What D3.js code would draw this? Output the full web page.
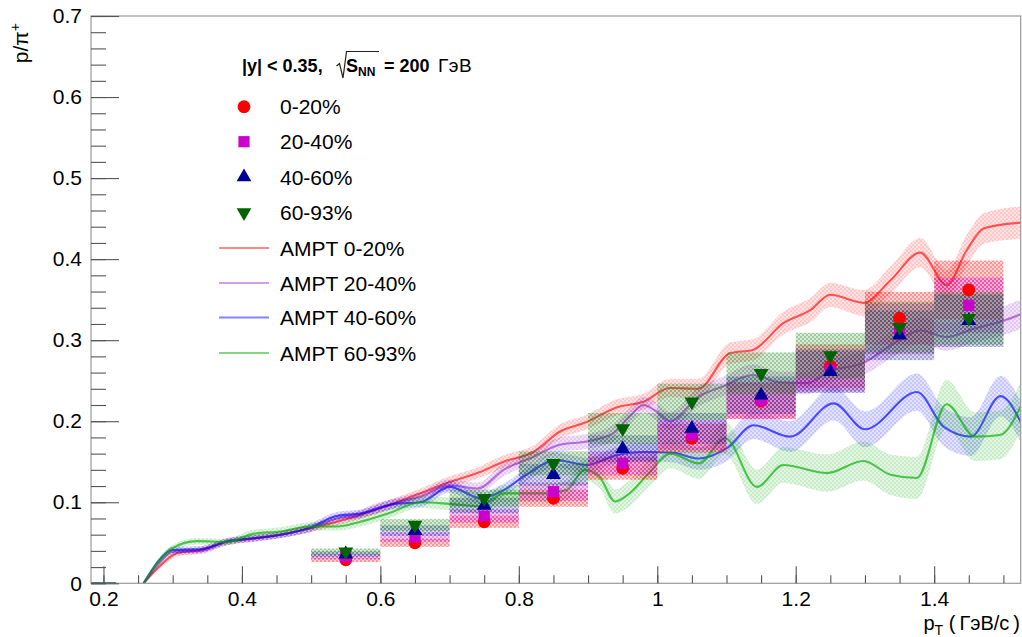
<!DOCTYPE html>
<html>
<head>
<meta charset="utf-8">
<script src="https://cdn.jsdelivr.net/npm/d3@7"></script>
<style>
  html, body { margin: 0; padding: 0; background: #fff; }
  text { font-family: "Liberation Sans", Arial, Helvetica, sans-serif; fill: #000; }
</style>
</head>
<body>
<script>
// ---- measured p/pi+ ratio, |y| < 0.35, sqrt(sNN) = 200 GeV ----
const ptBins   = [0.55, 0.65, 0.75, 0.85, 0.95, 1.05, 1.15, 1.25, 1.35, 1.45];
const binWidth = 0.1;
const sysFrac  = 0.10;   // relative systematic uncertainty (boxes)

const cent0020 = [0.029, 0.050, 0.076, 0.105, 0.142, 0.179, 0.225, 0.268, 0.327, 0.362];
const cent2040 = [0.033, 0.057, 0.083, 0.113, 0.148, 0.183, 0.226, 0.263, 0.314, 0.343];
const cent4060 = [0.036, 0.065, 0.096, 0.134, 0.166, 0.191, 0.232, 0.261, 0.306, 0.324];
const cent6093 = [0.039, 0.072, 0.105, 0.148, 0.191, 0.224, 0.259, 0.281, 0.316, 0.327];

// ---- AMPT model curves: [pT, ratio, band half-width]; null breaks the line ----
const ampt0020 = [
  [0.182,0,0],[0.218,0,0],null,
  [0.258,0,0.002],[0.28,0.020,0.003],[0.306,0.037,0.004],[0.34,0.041,0.004],[0.378,0.051,0.004],
  [0.416,0.0555,0.004],[0.455,0.060,0.004],[0.499,0.068,0.005],[0.537,0.076,0.005],[0.571,0.084,0.005],
  [0.614,0.097,0.006],[0.658,0.111,0.006],[0.70,0.125,0.007],[0.74,0.136,0.007],[0.778,0.150,0.008],
  [0.821,0.162,0.008],[0.859,0.187,0.009],[0.898,0.199,0.009],[0.941,0.217,0.010],[0.98,0.224,0.010],
  [1.018,0.241,0.011],[1.059,0.240,0.012],[1.105,0.284,0.013],[1.138,0.288,0.013],[1.182,0.321,0.014],
  [1.221,0.337,0.015],[1.25,0.356,0.015],[1.298,0.346,0.016],[1.337,0.374,0.017],[1.38,0.408,0.018],
  [1.418,0.368,0.018],[1.447,0.411,0.019],[1.472,0.438,0.019],[1.525,0.445,0.020]
];
const ampt2040 = [
  [0.182,0,0],[0.218,0,0],null,
  [0.258,0,0.002],[0.28,0.024,0.003],[0.30,0.039,0.004],[0.34,0.040,0.004],[0.378,0.051,0.004],
  [0.416,0.055,0.004],[0.455,0.060,0.004],[0.499,0.068,0.005],[0.537,0.080,0.005],[0.571,0.085,0.005],
  [0.585,0.090,0.006],[0.622,0.099,0.006],[0.658,0.107,0.006],[0.70,0.121,0.007],[0.74,0.117,0.007],
  [0.778,0.140,0.008],[0.821,0.156,0.008],[0.859,0.171,0.009],[0.898,0.175,0.009],[0.936,0.185,0.010],
  [0.96,0.206,0.010],[0.98,0.220,0.010],[0.999,0.212,0.011],[1.018,0.200,0.011],[1.061,0.231,0.012],
  [1.095,0.243,0.012],[1.138,0.257,0.013],[1.177,0.248,0.013],[1.216,0.247,0.014],[1.25,0.262,0.014],
  [1.298,0.272,0.015],[1.34,0.295,0.016],[1.38,0.312,0.016],[1.418,0.304,0.017],[1.457,0.314,0.017],
  [1.5,0.324,0.018],[1.525,0.332,0.018]
];
const ampt4060 = [
  [0.182,0,0],[0.218,0,0],null,
  [0.258,0,0.002],[0.28,0.028,0.003],[0.299,0.041,0.004],[0.34,0.042,0.004],[0.378,0.052,0.004],
  [0.416,0.0555,0.004],[0.455,0.0596,0.004],[0.499,0.069,0.005],[0.537,0.083,0.005],[0.571,0.086,0.005],
  [0.622,0.098,0.006],[0.658,0.100,0.006],[0.70,0.119,0.007],[0.745,0.105,0.007],[0.778,0.115,0.008],
  [0.811,0.134,0.008],[0.854,0.152,0.009],[0.898,0.146,0.009],[0.941,0.158,0.010],[0.98,0.162,0.011],
  [1.023,0.161,0.012],[1.06,0.154,0.014],[1.101,0.167,0.016],[1.139,0.195,0.017],[1.192,0.181,0.019],
  [1.255,0.222,0.021],[1.30,0.190,0.022],[1.375,0.236,0.023],[1.414,0.193,0.024],[1.453,0.181,0.024],
  [1.496,0.231,0.025],[1.525,0.199,0.025]
];
const ampt6093 = [
  [0.182,0,0],[0.218,0,0],null,
  [0.258,0,0.002],[0.299,0.043,0.004],[0.335,0.052,0.004],[0.378,0.051,0.004],[0.416,0.061,0.005],
  [0.455,0.064,0.005],[0.499,0.070,0.005],[0.537,0.070,0.005],[0.571,0.076,0.006],[0.614,0.087,0.006],
  [0.658,0.100,0.007],[0.70,0.098,0.008],[0.745,0.095,0.009],[0.778,0.111,0.010],[0.84,0.111,0.011],
  [0.869,0.115,0.012],[0.895,0.140,0.013],[0.917,0.131,0.014],[0.939,0.101,0.015],[0.96,0.111,0.016],
  [0.988,0.136,0.017],[1.019,0.160,0.018],[1.06,0.148,0.019],[1.098,0.179,0.020],[1.144,0.119,0.021],
  [1.182,0.146,0.022],[1.245,0.136,0.023],[1.298,0.151,0.024],[1.337,0.134,0.025],[1.375,0.130,0.026],
  [1.418,0.221,0.030],[1.459,0.181,0.030],[1.495,0.183,0.030],[1.525,0.218,0.030]
];

const dataLabels  = ["0-20%", "20-40%", "40-60%", "60-93%"];
const amptLabels  = ["AMPT 0-20%", "AMPT 20-40%", "AMPT 40-60%", "AMPT 60-93%"];
const xTickLabels = [0.2, 0.4, 0.6, 0.8, 1, 1.2, 1.4];
const yTickLabels = [0, 0.1, 0.2, 0.3, 0.4, 0.5, 0.6, 0.7];

// ---- styling ----
const W = 1022, H = 637;
const frame = { left: 91, right: 1020.7, top: 16, bottom: 583.3 };
const markerColors = ["#ff0000", "#cc00cc", "#000099", "#006400"];
const boxColors    = ["#ff0000", "#cc00cc", "#22229a", "#1a841a"];
const curveColors  = ["#ff0000", "#8000c0", "#0000ff", "#00aa00"];
const curveOpacity = [0.62, 0.5, 0.65, 0.65];
const markerShapes = [d3.symbolCircle, d3.symbolSquare, d3.symbolTriangle, "down"];

const svg = d3.select("body").append("svg").attr("width", W).attr("height", H);
const defs = svg.append("defs");

const x = d3.scaleLinear().domain([0.182, 1.525]).range([frame.left, frame.right]);
const y = d3.scaleLinear().domain([0, 0.7]).range([frame.bottom, frame.top]);

// checkered translucent fills
function checker(id, color, aBase, aCell, cell) {
  const p = defs.append("pattern").attr("id", id)
    .attr("patternUnits", "userSpaceOnUse")
    .attr("width", cell * 2).attr("height", cell * 2);
  p.append("rect").attr("width", cell * 2).attr("height", cell * 2)
    .attr("fill", color).attr("fill-opacity", aBase);
  p.append("rect").attr("width", cell).attr("height", cell)
    .attr("fill", color).attr("fill-opacity", aCell);
  p.append("rect").attr("x", cell).attr("y", cell).attr("width", cell).attr("height", cell)
    .attr("fill", color).attr("fill-opacity", aCell);
}
boxColors.forEach((c, i) => checker("sys" + i, c, 0.17, 0.3, 2));
curveColors.forEach((c, i) => checker("band" + i, c, 0.11, 0.12, 2));

defs.append("clipPath").attr("id", "plotclip").append("rect")
  .attr("x", frame.left).attr("y", frame.top)
  .attr("width", frame.right - frame.left).attr("height", frame.bottom - frame.top);

function symbolPath(shape, size) {
  if (shape === "down") {
    return d3.symbol().type(d3.symbolTriangle).size(size)();
  }
  return d3.symbol().type(shape).size(size)();
}
const markerSizes = [130, 125, 95, 95];
function placeMarker(sel, i) {
  sel.attr("d", symbolPath(markerShapes[i], markerSizes[i]))
     .attr("fill", markerColors[i]);
}

// ---- AMPT curves with uncertainty bands ----
const plot = svg.append("g").attr("clip-path", "url(#plotclip)");
const curves = [ampt0020, ampt2040, ampt4060, ampt6093];
const area = d3.area().defined(d => d)
  .x(d => x(d[0])).y0(d => y(d[1] - d[2])).y1(d => y(d[1] + d[2]))
  .curve(d3.curveMonotoneX);
const line = d3.line().defined(d => d)
  .x(d => x(d[0])).y(d => y(d[1]))
  .curve(d3.curveMonotoneX);

curves.forEach((c, i) => {
  plot.append("path").attr("d", area(c)).attr("fill", `url(#band${i})`);
  plot.append("path").attr("d", line(c)).attr("fill", "none")
    .attr("stroke", curveColors[i]).attr("stroke-opacity", curveOpacity[i])
    .attr("stroke-width", 2.1).attr("stroke-linejoin", "round");
});

// ---- systematic boxes ----
const series = [cent0020, cent2040, cent4060, cent6093];
series.forEach((vals, i) => {
  plot.append("g").selectAll("rect").data(vals).join("rect")
    .attr("x", (v, k) => x(ptBins[k] - binWidth / 2))
    .attr("width", (v, k) => x(ptBins[k] + binWidth / 2) - x(ptBins[k] - binWidth / 2))
    .attr("y", v => y(v * (1 + sysFrac)))
    .attr("height", v => y(v * (1 - sysFrac)) - y(v * (1 + sysFrac)))
    .attr("fill", `url(#sys${i})`);
});

// ---- data markers ----
series.forEach((vals, i) => {
  plot.append("g").selectAll("path").data(vals).join("path")
    .call(placeMarker, i)
    .attr("transform", (v, k) => {
      const base = `translate(${x(ptBins[k])},${y(v)})`;
      return markerShapes[i] === "down" ? base + " rotate(180)" : base;
    });
});

// ---- frame and axes ----
svg.append("rect")
  .attr("x", frame.left).attr("y", frame.top)
  .attr("width", frame.right - frame.left).attr("height", frame.bottom - frame.top)
  .attr("fill", "none").attr("stroke", "#9a9a9a").attr("stroke-width", 1.2);

const tickColor = "#555";
const fmt = d3.format("~g");

const xMinor = svg.append("g").attr("transform", `translate(0,${frame.bottom})`)
  .call(d3.axisBottom(x).tickValues(x.ticks(30)).tickSize(-8).tickFormat(""));
const xMajor = svg.append("g").attr("transform", `translate(0,${frame.bottom})`)
  .call(d3.axisBottom(x).tickValues(xTickLabels).tickSizeInner(-17).tickSizeOuter(0)
        .tickPadding(8).tickFormat(fmt));
const yMinor = svg.append("g").attr("transform", `translate(${frame.left},0)`)
  .call(d3.axisLeft(y).tickValues(y.ticks(35)).tickSize(-15).tickFormat(""));
const yMajor = svg.append("g").attr("transform", `translate(${frame.left},0)`)
  .call(d3.axisLeft(y).tickValues(yTickLabels).tickSizeInner(-28).tickSizeOuter(0)
        .tickPadding(9).tickFormat(fmt));

[xMinor, xMajor, yMinor, yMajor].forEach(g => {
  g.select(".domain").remove();
  g.selectAll(".tick line").attr("stroke", tickColor).attr("stroke-width", 1.1);
  g.selectAll(".tick text")
    .attr("font-family", '"Liberation Sans", Arial, sans-serif')
    .attr("font-size", 21).attr("fill", "#000");
});

// axis titles
const yTitle = svg.append("text")
  .attr("transform", "translate(28,23) rotate(-90)")
  .attr("text-anchor", "end").attr("font-size", 21);
yTitle.append("tspan").text("p/π");
yTitle.append("tspan").attr("dy", -8).attr("font-size", 14).text("+");

const xTitle = svg.append("text")
  .attr("x", 1020).attr("y", 630).attr("text-anchor", "end").attr("font-size", 20);
xTitle.append("tspan").text("p");
xTitle.append("tspan").attr("dy", 5).attr("font-size", 14).text("T");
xTitle.append("tspan").attr("dy", -5).text(" (\u2009ГэВ/с\u2009)");

// ---- legend ----
const lg = svg.append("g");
const head = lg.append("g").attr("font-weight", "bold");
head.append("text").attr("x", 242).attr("y", 71.5).attr("font-size", 18).attr("font-weight", "bold")
  .text("|y| < 0.35,");
lg.append("path").attr("d", "M336.5,66 L339.5,63.5 L343,78 L346.5,51.5 L379,51.5")
  .attr("fill", "none").attr("stroke", "#222").attr("stroke-width", 1.2);
head.append("text").attr("x", 346).attr("y", 71.5).attr("font-size", 18).attr("font-weight", "bold")
  .text("S");
head.append("text").attr("x", 358).attr("y", 76).attr("font-size", 12).attr("font-weight", "bold")
  .text("NN");
head.append("text").attr("x", 384).attr("y", 71.5).attr("font-size", 18).attr("font-weight", "bold")
  .text("= 200");
lg.append("text").attr("x", 438).attr("y", 71.5).attr("font-size", 19)
  .attr("font-weight", "normal").attr("letter-spacing", 0.5).text("ГэВ");

const rowMarkers = [106.7, 141.7, 177, 212.5];
const rowLines   = [248, 283, 317.5, 353];

dataLabels.forEach((lab, i) => {
  lg.append("path").call(placeMarker, i)
    .attr("transform", `translate(244,${rowMarkers[i]})` + (markerShapes[i] === "down" ? " rotate(180)" : ""));
  lg.append("text").attr("x", 280).attr("y", rowMarkers[i] + 7.5).attr("font-size", 21).text(lab);
});
amptLabels.forEach((lab, i) => {
  lg.append("line").attr("x1", 219).attr("x2", 269)
    .attr("y1", rowLines[i]).attr("y2", rowLines[i])
    .attr("stroke", curveColors[i]).attr("stroke-opacity", curveOpacity[i] * 0.75)
    .attr("stroke-width", 2.2);
  lg.append("text").attr("x", 280).attr("y", rowLines[i] + 7.5).attr("font-size", 21).text(lab);
});
</script>
</body>
</html>
